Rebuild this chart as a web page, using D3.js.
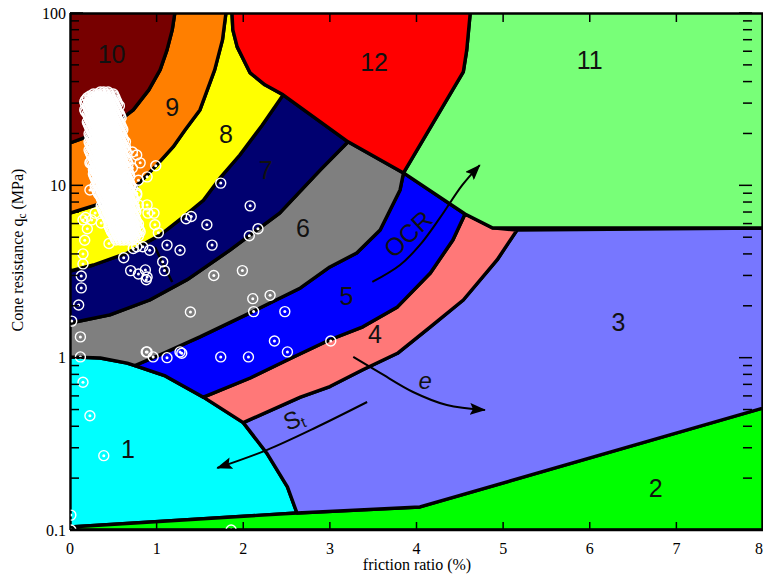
<!DOCTYPE html>
<html>
<head>
<meta charset="utf-8">
<script src="https://cdn.jsdelivr.net/npm/d3@7"></script>
<style>
  body { margin: 0; background: #fff; }
  svg { display: block; }
</style>
</head>
<body>
<svg id="chart" width="763" height="574"></svg>
<script>
// ---- axes -------------------------------------------------------------
const frTicks = [0, 1, 2, 3, 4, 5, 6, 7, 8];
const qcTicks = [0.1, 1, 10, 100];

// ---- soil behaviour zones: boundaries as [friction ratio %, qc MPa] ----
const edge10to9 = [[1.21,100],[1.18,79.8],[1.12,61.1],[1.04,46.8],[0.91,35.8],[0.73,27.4],[0.52,22.7],[0.31,20.1],[0,17.6]];
const edge9to8 = [[1.80,100],[1.76,69.8],[1.67,46.8],[1.50,27.4],[1.33,21.0],[1.19,16.7],[1.00,13.1],[0.72,9.4],[0.38,7.9],[0,6.9]];
const edge12left = [[1.87,100],[1.88,79.8],[1.93,63.6],[2.08,44.9],[2.25,38.3],[2.46,33.5]];
const edge8to7 = [[2.46,33.5],[2.22,22.4],[1.96,15.0],[1.73,11.0],[1.54,8.2],[1.33,6.7],[1.04,5.15],[0.66,4.05],[0.27,3.45],[0,3.18]];
const edge12low = [[2.46,33.5],[3.21,17.9],[3.85,11.8]];
const edge12right = [[4.62,100],[4.58,61.1],[4.54,45.5],[3.85,11.8]];
const edge11low = [[3.85,11.8],[4.56,6.82],[4.88,5.66],[8,5.66]];
const edge7to6 = [[3.21,17.9],[2.89,12.3],[2.42,6.9],[1.85,4.22],[1.35,2.83],[0.92,2.16],[0.46,1.77],[0,1.59]];
const edge6to5 = [[3.85,11.8],[3.81,9.4],[3.58,5.5],[3.31,4.05],[3.00,3.36],[2.66,2.54],[2.08,1.82],[1.50,1.32],[1.04,1.04],[0.75,0.90]];
const edge1arc = [[0,1.01],[0.35,0.996],[0.66,0.93],[0.75,0.90],[1.10,0.783],[1.54,0.59],[2.00,0.42],[2.27,0.28],[2.51,0.178],[2.62,0.1255]];
const edge5to4 = [[4.56,6.82],[4.42,4.82],[4.16,3.10],[3.78,1.97],[3.38,1.51],[3.00,1.27],[2.58,1.01],[2.08,0.762],[1.54,0.59]];
const edge4to3 = [[5.16,5.5],[4.93,3.69],[4.54,2.16],[4.16,1.51],[3.78,1.06],[3.38,0.85],[3.00,0.68],[2.66,0.59],[2.00,0.42]];
const edge2top = [[0,0.104],[2.62,0.1255],[4.04,0.136],[8,0.51]];

const zoneNames = ["1","2","3","4","5","6","7","8","9","10","11","12"];
const zoneColors = ["#00ffff","#00ff00","#7777ff","#ff7878","#0000ff","#7f7f7f","#000070","#ffff00","#ff7f00","#770000","#78ff78","#ff0000"];
const zoneLabelFr = [0.67, 6.76, 6.33, 3.52, 3.19, 2.69, 2.26, 1.80, 1.18, 0.48, 6.00, 3.51];
const zoneLabelQc = [0.295, 0.176, 1.61, 1.37, 2.28, 5.66, 12.3, 19.9, 28.5, 57.9, 53.5, 52.0];

// ---- CPT readings ------------------------------------------------------
const sparseFr = [0.99,1.74,2.08,1.34,1.40,1.58,2.07,2.17,1.02,1.12,1.64,1.27,1.07,1.09,1.66,1.99,2.11,2.31,1.39,2.12,2.48,2.36,3.01,2.51,1.27,1.29,0.88,0.89,0.96,1.12,1.74,2.06,0.97,0.13,0.10,0.02,0.12,0.12,0.15,0.23,0.39,0.01,0.01,1.86,0.88,0.13,0.15,0.15,0.17,0.20,0.18,0.25,0.36,0.45,0.29,0.98,0.62,0.70,0.79,0.87,0.89,0.92,0.77,0.73,0.84,0.79,0.89,0.90,0.77,0.64,0.72,0.77,0.81,0.72,0.89,0.79,0.69,0.77,0.25,0.23,0.27,0.23,0.15];
const sparseQc = [13.0,10.3,7.6,6.4,6.6,5.9,5.1,5.6,5.3,4.5,4.5,4.2,3.6,3.2,3.0,3.2,2.2,2.3,1.84,1.85,1.85,1.25,1.25,1.08,1.08,1.06,1.08,1.08,1.01,1.0,1.01,1.01,6.9,2.54,2.02,1.63,1.32,1.01,0.72,0.46,0.27,0.122,0.10,0.10,2.83,2.98,3.5,4.0,4.8,5.6,6.5,6.3,6.05,4.6,6.9,5.9,3.8,3.2,3.06,3.23,2.94,4.2,4.4,4.3,4.4,7.7,7.7,6.9,9.0,16.7,15.6,15.0,13.5,12.6,11.2,10.7,9.8,8.8,16.7,13.5,12.3,9.4,6.3];

// dense sounding: qc of each band and the friction ratios read in it
const denseQc = [34.8,33.9,33.0,32.2,31.3,30.5,29.7,28.9,28.1,27.4,26.7,26.0,25.3,24.6,24.0,23.3,22.7,22.1,21.5,21.0,20.4,19.9,19.4,18.8,18.3,17.9,17.4,16.9,16.5,16.05,15.6,15.2,14.8,14.4,14.0,13.7,13.3,12.96,12.6,12.3,12.0,11.65,11.3,11.04,10.7,10.46,10.2,9.92,9.66,9.40,9.16,8.92,8.68,8.45,8.22,8.01,7.80,7.59,7.39,7.20,7.01,6.82,6.64,6.47,6.30,6.13,5.97,5.81,5.66,5.50,5.37,5.22,5.09,4.95,4.82];
const denseFr = [
  [0.35,0.39,0.44],
  [0.27,0.31,0.36,0.40,0.45,0.50],
  [0.23,0.28,0.32,0.37,0.42,0.46,0.51],
  [0.20,0.24,0.29,0.33,0.38,0.43,0.47,0.52],
  [0.18,0.25,0.30,0.35,0.39,0.44,0.48,0.53],
  [0.17,0.22,0.27,0.31,0.36,0.40,0.45,0.50,0.54],
  [0.18,0.23,0.28,0.32,0.37,0.42,0.46,0.51,0.55],
  [0.20,0.24,0.29,0.33,0.38,0.43,0.47,0.52,0.57],
  [0.21,0.25,0.30,0.35,0.39,0.44,0.48,0.53],
  [0.17,0.22,0.27,0.31,0.36,0.40,0.45,0.50,0.54],
  [0.18,0.23,0.28,0.32,0.37,0.42,0.46,0.51,0.55],
  [0.20,0.24,0.29,0.33,0.38,0.43,0.47,0.52,0.57],
  [0.21,0.25,0.30,0.35,0.39,0.44,0.48,0.53,0.58],
  [0.22,0.27,0.31,0.36,0.40,0.45,0.50,0.54,0.59],
  [0.23,0.28,0.32,0.37,0.42,0.46,0.51,0.55],
  [0.20,0.24,0.29,0.33,0.38,0.43,0.47,0.52,0.57],
  [0.21,0.25,0.30,0.35,0.39,0.44,0.48,0.53,0.58],
  [0.22,0.27,0.31,0.36,0.40,0.45,0.50,0.54,0.59],
  [0.23,0.28,0.32,0.37,0.42,0.46,0.51,0.55,0.60],
  [0.24,0.29,0.33,0.38,0.43,0.47,0.52,0.57,0.61],
  [0.25,0.30,0.35,0.39,0.44,0.48,0.53,0.58],
  [0.22,0.27,0.31,0.36,0.40,0.45,0.50,0.54,0.59],
  [0.23,0.28,0.32,0.37,0.42,0.46,0.51,0.55,0.60],
  [0.24,0.29,0.33,0.38,0.43,0.47,0.52,0.57,0.61],
  [0.25,0.30,0.35,0.39,0.44,0.48,0.53,0.58,0.62],
  [0.22,0.27,0.31,0.36,0.40,0.45,0.50,0.54,0.59,0.64],
  [0.23,0.28,0.32,0.37,0.42,0.46,0.51,0.55,0.60],
  [0.24,0.29,0.33,0.38,0.43,0.47,0.52,0.57,0.61],
  [0.25,0.30,0.35,0.39,0.44,0.48,0.53,0.58,0.62],
  [0.22,0.27,0.31,0.36,0.40,0.45,0.50,0.54,0.59,0.64],
  [0.23,0.28,0.32,0.37,0.42,0.46,0.51,0.55,0.60,0.65],
  [0.24,0.29,0.33,0.38,0.43,0.47,0.52,0.57,0.61],
  [0.25,0.30,0.35,0.39,0.44,0.48,0.53,0.58,0.62],
  [0.27,0.31,0.36,0.40,0.45,0.50,0.54,0.59,0.64],
  [0.28,0.32,0.37,0.42,0.46,0.51,0.55,0.60,0.65],
  [0.24,0.29,0.33,0.38,0.43,0.47,0.52,0.57,0.61,0.66],
  [0.25,0.30,0.35,0.39,0.44,0.48,0.53,0.58,0.62,0.67],
  [0.27,0.31,0.36,0.40,0.45,0.50,0.54,0.59,0.64],
  [0.28,0.32,0.37,0.42,0.46,0.51,0.55,0.60,0.65],
  [0.29,0.33,0.38,0.43,0.47,0.52,0.57,0.61,0.66],
  [0.30,0.35,0.39,0.44,0.48,0.53,0.58,0.62,0.67],
  [0.27,0.31,0.36,0.40,0.45,0.50,0.54,0.59,0.64,0.68],
  [0.28,0.32,0.37,0.42,0.46,0.51,0.55,0.60,0.65,0.69],
  [0.29,0.33,0.38,0.43,0.47,0.52,0.57,0.61,0.66],
  [0.30,0.35,0.39,0.44,0.48,0.53,0.58,0.62,0.67],
  [0.31,0.36,0.40,0.45,0.50,0.54,0.59,0.64,0.68],
  [0.32,0.37,0.42,0.46,0.51,0.55,0.60,0.65,0.69],
  [0.29,0.33,0.38,0.43,0.47,0.52,0.57,0.61,0.66,0.70],
  [0.30,0.35,0.39,0.44,0.48,0.53,0.58,0.62,0.67,0.72],
  [0.31,0.36,0.40,0.45,0.50,0.54,0.59,0.64,0.68],
  [0.32,0.37,0.42,0.46,0.51,0.55,0.60,0.65,0.69],
  [0.33,0.38,0.43,0.47,0.52,0.57,0.61,0.66,0.70],
  [0.35,0.39,0.44,0.48,0.53,0.58,0.62,0.67,0.72],
  [0.36,0.40,0.45,0.50,0.54,0.59,0.64,0.68,0.73],
  [0.37,0.42,0.46,0.51,0.55,0.60,0.65,0.69,0.74],
  [0.38,0.43,0.47,0.52,0.57,0.61,0.66,0.70],
  [0.39,0.44,0.48,0.53,0.58,0.62,0.67,0.72],
  [0.36,0.40,0.45,0.50,0.54,0.59,0.64,0.68,0.73],
  [0.37,0.42,0.46,0.51,0.55,0.60,0.65,0.69,0.74],
  [0.38,0.43,0.47,0.52,0.57,0.61,0.66,0.70,0.75],
  [0.39,0.44,0.48,0.53,0.58,0.62,0.67,0.72,0.76],
  [0.40,0.45,0.50,0.54,0.59,0.64,0.68,0.73],
  [0.42,0.46,0.51,0.55,0.60,0.65,0.69,0.74],
  [0.43,0.47,0.52,0.57,0.61,0.66,0.70,0.75],
  [0.44,0.48,0.53,0.58,0.62,0.67,0.72,0.76],
  [0.45,0.50,0.54,0.59,0.64,0.68,0.73,0.77],
  [0.46,0.51,0.55,0.60,0.65,0.69,0.74,0.79],
  [0.45,0.50,0.54,0.59,0.64,0.68,0.73,0.77],
  [0.46,0.51,0.55,0.60,0.65,0.69,0.74,0.79],
  [0.47,0.52,0.57,0.61,0.66,0.70,0.75,0.80],
  [0.48,0.53,0.58,0.62,0.67,0.72,0.76,0.81],
  [0.50,0.54,0.59,0.64,0.68,0.73,0.77],
  [0.51,0.55,0.60,0.65,0.69,0.74,0.79],
  [0.52,0.57,0.61,0.66,0.70,0.75],
  [0.53,0.58,0.62,0.67,0.72]
];

// ---- trend arrows and sketch marks ---------------------------------------
const ocrArrow = [[3.49,2.75],[3.81,3.45],[4.04,4.51],[4.27,6.47],[4.53,10.05],[4.73,13.1]];
const eArrow = [[3.27,1.01],[3.58,0.815],[3.96,0.632],[4.35,0.531],[4.79,0.497]];
const stArrow = [[3.43,0.553],[2.85,0.396],[2.27,0.291],[1.70,0.229]];
const drStroke = [[0.98,4.39],[1.08,3.45],[1.18,2.75]];

// ---- drawing -----------------------------------------------------------
const svg = d3.select("#chart");
const x = d3.scaleLinear().domain([0, 8]).range([70, 763]);
const y = d3.scaleLog().domain([0.1, 100]).range([530, 13]);

const rev = a => a.slice().reverse();
const zonePolys = [
  [...edge1arc, [0, 0.104]],                                               // 1
  [[0, 0.1], ...edge2top, [8, 0.1]],                                       // 2
  [[5.16, 5.5], [8, 5.66], [8, 0.51], [4.04, 0.136], ...rev(edge1arc.slice(6)), ...rev(edge4to3)], // 3
  [...edge5to4, [2.00, 0.42], ...rev(edge4to3), [4.88, 5.66]],             // 4
  [[3.85, 11.8], ...edge5to4, ...rev(edge1arc.slice(3, 6)), ...rev(edge6to5)], // 5
  [[3.21, 17.9], ...edge6to5, ...rev(edge1arc.slice(0, 4)), ...rev(edge7to6)], // 6
  [edge12low[0], ...edge7to6, ...rev(edge8to7)],                           // 7
  [...edge12left, ...edge8to7, ...rev(edge9to8)],                          // 8
  [...edge9to8, ...rev(edge10to9)],                                        // 9
  [[0, 100], ...edge10to9],                                                // 10
  [[4.62, 100], [8, 100], ...rev(edge11low), ...rev(edge12right).slice(1)], // 11
  [...edge12right, ...rev(edge12low).slice(1), ...rev(edge12left)]         // 12
];

const defs = svg.append("defs");
defs.append("clipPath").attr("id", "plot")
  .append("rect").attr("x", x(0)).attr("y", y(100))
  .attr("width", x(8) - x(0)).attr("height", y(0.1) - y(100));
defs.append("marker")
  .attr("id", "head").attr("markerUnits", "userSpaceOnUse")
  .attr("viewBox", "0 0 16 12").attr("refX", 15).attr("refY", 6)
  .attr("markerWidth", 16).attr("markerHeight", 12).attr("orient", "auto")
  .append("path").attr("d", "M0,0 L16,6 L0,12 L3,6 Z").attr("fill", "#000");

const plot = svg.append("g").attr("clip-path", "url(#plot)");
const poly = d3.line().x(d => x(d[0])).y(d => y(d[1]));

plot.selectAll("path.zone").data(zonePolys).join("path")
  .attr("class", "zone")
  .attr("d", d => poly(d) + "Z")
  .attr("fill", (d, i) => zoneColors[i])
  .attr("stroke", "#000").attr("stroke-width", 3.4)
  .attr("stroke-linejoin", "round");

// zone numbers
plot.selectAll("text.zl").data(zoneNames).join("text")
  .attr("class", "zl")
  .attr("x", (d, i) => x(zoneLabelFr[i])).attr("y", (d, i) => y(zoneLabelQc[i]))
  .attr("text-anchor", "middle").attr("dominant-baseline", "central")
  .attr("font-family", "Liberation Sans, Arial, sans-serif")
  .attr("font-size", 25).attr("fill", "#111").text(d => d);

// trend arrows
const curve = d3.line().x(d => x(d[0])).y(d => y(d[1])).curve(d3.curveCatmullRom);
[ocrArrow, eArrow, stArrow].forEach(a => {
  plot.append("path").attr("d", curve(a)).attr("fill", "none")
    .attr("stroke", "#000").attr("stroke-width", 2)
    .attr("marker-end", "url(#head)");
});
plot.append("path").attr("d", curve(drStroke)).attr("fill", "none")
  .attr("stroke", "#000").attr("stroke-width", 2.5);

const ann = plot.append("g").attr("font-family", "Liberation Sans, Arial, sans-serif").attr("fill", "#111");
ann.append("text").attr("transform", `translate(${x(3.90)},${y(5.23)}) rotate(-43)`)
  .attr("text-anchor", "middle").attr("dominant-baseline", "central")
  .attr("font-size", 25).text("OCR");
ann.append("text").attr("transform", `translate(${x(4.10)},${y(0.733)})`)
  .attr("text-anchor", "middle").attr("dominant-baseline", "central")
  .attr("font-size", 24).attr("font-style", "italic").text("e");
const st = ann.append("text").attr("transform", `translate(${x(2.58)},${y(0.441)}) rotate(-22)`)
  .attr("text-anchor", "middle").attr("dominant-baseline", "central").attr("font-size", 24);
st.append("tspan").text("S");
st.append("tspan").attr("font-size", 15).attr("dy", 6).text("t");

// readings
const readings = sparseFr.map((f, i) => [f, sparseQc[i]]);
denseQc.forEach((q, i) => denseFr[i].forEach(f => readings.push([f, q])));
const pts = plot.append("g");
pts.selectAll("circle.ring").data(readings).join("circle")
  .attr("class", "ring").attr("cx", d => x(d[0])).attr("cy", d => y(d[1])).attr("r", 5)
  .attr("fill", "none").attr("stroke", "#fff").attr("stroke-width", 1.4);
pts.selectAll("circle.dot").data(readings).join("circle")
  .attr("class", "dot").attr("cx", d => x(d[0])).attr("cy", d => y(d[1])).attr("r", 1.5)
  .attr("fill", "#fff");

// frame
svg.append("line").attr("x1", x(0)).attr("x2", x(8)).attr("y1", y(100)).attr("y2", y(100))
  .attr("stroke", "#000").attr("stroke-width", 1.5);
svg.append("line").attr("x1", x(0)).attr("x2", x(0)).attr("y1", y(100)).attr("y2", y(0.1))
  .attr("stroke", "#000").attr("stroke-width", 1.5);
svg.append("line").attr("x1", x(0)).attr("x2", x(8)).attr("y1", y(0.1)).attr("y2", y(0.1))
  .attr("stroke", "#000").attr("stroke-width", 2.5);

// tick marks pointing into the plot
const minor = [];
[0.1, 1, 10].forEach(b => { for (let k = 2; k <= 9; k++) minor.push(b * k); });
const tickG = svg.append("g").attr("stroke", "#000").attr("stroke-width", 1.5);
[[x(0), 1], [x(8) - 11, -1]].forEach(([x0, s]) => {
  tickG.selectAll(null).data(qcTicks).join("line")
    .attr("x1", x0).attr("x2", x0 + s * 13).attr("y1", d => y(d)).attr("y2", d => y(d));
  tickG.selectAll(null).data(minor).join("line")
    .attr("x1", x0).attr("x2", x0 + s * 9).attr("y1", d => y(d)).attr("y2", d => y(d));
});
tickG.selectAll(null).data(frTicks.slice(1, 8)).join("line")
  .attr("x1", d => x(d)).attr("x2", d => x(d)).attr("y1", y(0.1)).attr("y2", y(0.1) - 8);
tickG.selectAll(null).data(frTicks.slice(1, 8)).join("line")
  .attr("x1", d => x(d)).attr("x2", d => x(d)).attr("y1", y(100)).attr("y2", y(100) + 9);

// tick labels
const serif = "Liberation Serif, Times New Roman, serif";
svg.append("g").selectAll("text").data(qcTicks).join("text")
  .attr("x", x(0) - 4).attr("y", d => y(d)).attr("dy", "0.36em")
  .attr("text-anchor", "end").attr("font-family", serif).attr("font-size", 16)
  .text(d => d3.format("~g")(d));
svg.append("g").selectAll("text").data(frTicks).join("text")
  .attr("x", d => x(d)).attr("y", 554)
  .attr("text-anchor", (d, i) => i === frTicks.length - 1 ? "end" : "middle")
  .attr("font-family", serif).attr("font-size", 16)
  .text(d => d);

svg.append("text").attr("x", 417).attr("y", 570).attr("text-anchor", "middle")
  .attr("font-family", serif).attr("font-size", 16).text("friction ratio (%)");

const yl = svg.append("text").attr("transform", "translate(23,250) rotate(-90)")
  .attr("text-anchor", "middle").attr("font-family", serif).attr("font-size", 16);
yl.append("tspan").text("Cone resistance q");
yl.append("tspan").attr("font-size", 11.5).attr("dy", 3).text("c");
yl.append("tspan").attr("dy", -3).text(" (MPa)");
</script>
</body>
</html>
